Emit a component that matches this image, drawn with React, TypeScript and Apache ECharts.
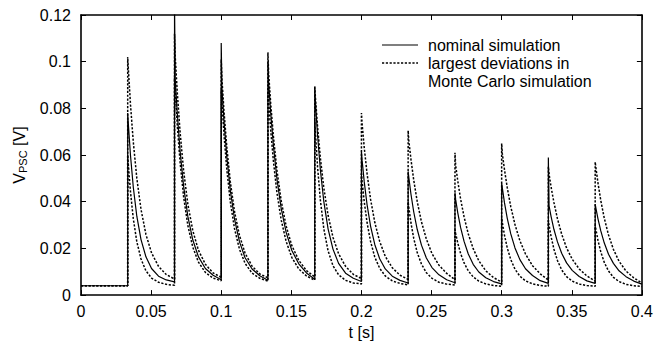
import { useEffect, useRef } from "react";
import * as echarts from "echarts";

// ---- axes ----
const xMin = 0;
const xMax = 0.4;
const xInterval = 0.05;
const yMin = 0;
const yMax = 0.12;
const yInterval = 0.02;

// ---- pulse timing (s) ----
const pulseTimes = [0.0333, 0.0667, 0.1, 0.1333, 0.1667, 0.2, 0.2333, 0.2667, 0.3, 0.3333, 0.3667];
// sample instants after each pulse onset (s)
const decayOffsets = [0.0005, 0.002, 0.004, 0.0065, 0.0095, 0.013, 0.017, 0.022, 0.0275];
const initialLevel = 0.004;

// ---- nominal simulation ----
const nominalSpikes = [0.078, 0.125, 0.108, 0.1, 0.089, 0.0615, 0.053, 0.044, 0.048, 0.059, 0.039];
const nominalDecay = [
  [0.073, 0.0598, 0.0462, 0.0338, 0.0238, 0.0164, 0.0114, 0.0081, 0.0065],
  [0.0924, 0.0776, 0.0616, 0.0466, 0.0337, 0.0237, 0.0165, 0.0114, 0.0085],
  [0.0886, 0.0744, 0.0592, 0.0448, 0.0325, 0.0229, 0.016, 0.0112, 0.0083],
  [0.0911, 0.078, 0.0635, 0.0495, 0.037, 0.0269, 0.0192, 0.0134, 0.0095],
  [0.0826, 0.0686, 0.0537, 0.0399, 0.0284, 0.0197, 0.0136, 0.0094, 0.0072],
  [0.0576, 0.0485, 0.0388, 0.0296, 0.0217, 0.0156, 0.0112, 0.0081, 0.0063],
  [0.0504, 0.0433, 0.0356, 0.0281, 0.0214, 0.0159, 0.0118, 0.0087, 0.0066],
  [0.0409, 0.0352, 0.029, 0.023, 0.0176, 0.0132, 0.0099, 0.0074, 0.0058],
  [0.0458, 0.0396, 0.0329, 0.0262, 0.0202, 0.0152, 0.0113, 0.0084, 0.0062],
  [0.0382, 0.0335, 0.0281, 0.0228, 0.0179, 0.0138, 0.0106, 0.008, 0.0061],
  [0.0373, 0.0327, 0.0275, 0.0223, 0.0175, 0.0136, 0.0104, 0.0079, 0.006],
];
const nominalEnds = [0.0057, 0.0066, 0.0064, 0.0068, 0.0058, 0.0052, 0.0053, 0.0048, 0.005, 0.005, 0.0047];

// ---- Monte Carlo run with the largest (upper) deviation ----
const upperSpikes = [0.102, 0.112, 0.101, 0.104, 0.0895, 0.078, 0.0705, 0.061, 0.065, 0.055, 0.057];
const upperDecay = [
  [0.0965, 0.0816, 0.0656, 0.0501, 0.0367, 0.026, 0.0181, 0.0123, 0.0088],
  [0.1022, 0.0865, 0.0696, 0.0532, 0.039, 0.0277, 0.0193, 0.0132, 0.0095],
  [0.0927, 0.0786, 0.0633, 0.0485, 0.0357, 0.0256, 0.018, 0.0124, 0.0091],
  [0.0952, 0.082, 0.0675, 0.0532, 0.0403, 0.0296, 0.0213, 0.0149, 0.0105],
  [0.0845, 0.0723, 0.0588, 0.0458, 0.0342, 0.0248, 0.0177, 0.0123, 0.0089],
  [0.0733, 0.0632, 0.0521, 0.0411, 0.0312, 0.023, 0.0166, 0.0117, 0.0085],
  [0.0661, 0.0582, 0.0492, 0.04, 0.0314, 0.024, 0.0178, 0.0128, 0.0093],
  [0.0556, 0.0489, 0.0412, 0.0335, 0.0262, 0.0199, 0.0147, 0.0104, 0.0075],
  [0.0605, 0.0538, 0.046, 0.0379, 0.0302, 0.0233, 0.0176, 0.0126, 0.0091],
  [0.0519, 0.0461, 0.0396, 0.0327, 0.0261, 0.0202, 0.0154, 0.0112, 0.0082],
  [0.0546, 0.048, 0.0405, 0.0329, 0.0258, 0.0196, 0.0145, 0.0103, 0.0074],
];
const upperEnds = [0.0069, 0.0076, 0.0074, 0.0078, 0.0071, 0.0067, 0.0066, 0.0056, 0.0064, 0.006, 0.0052];

// ---- Monte Carlo run with the largest (lower) deviation ----
const lowerSpikes = [0.06, 0.093, 0.088, 0.09, 0.075, 0.052, 0.04, 0.028, 0.033, 0.032, 0.03];
const lowerDecay = [
  [0.0555, 0.0442, 0.0327, 0.0229, 0.0155, 0.0104, 0.0073, 0.0055, 0.0046],
  [0.0873, 0.0724, 0.0567, 0.042, 0.0298, 0.0206, 0.0142, 0.0097, 0.0073],
  [0.0826, 0.0686, 0.0537, 0.0399, 0.0284, 0.0197, 0.0136, 0.0094, 0.0072],
  [0.0833, 0.0706, 0.0569, 0.0436, 0.0321, 0.023, 0.0162, 0.0112, 0.0082],
  [0.0694, 0.055, 0.0407, 0.0283, 0.019, 0.0126, 0.0087, 0.0063, 0.0052],
  [0.0487, 0.04, 0.0311, 0.023, 0.0163, 0.0115, 0.0082, 0.0061, 0.005],
  [0.0375, 0.031, 0.0243, 0.0182, 0.0133, 0.0096, 0.0072, 0.0055, 0.0047],
  [0.0264, 0.0223, 0.0179, 0.0138, 0.0104, 0.0078, 0.006, 0.0048, 0.0041],
  [0.031, 0.0257, 0.0202, 0.0152, 0.0111, 0.0081, 0.0061, 0.0048, 0.0041],
  [0.03, 0.0249, 0.0196, 0.0148, 0.0108, 0.0079, 0.006, 0.0047, 0.0041],
  [0.0282, 0.0234, 0.0185, 0.014, 0.0103, 0.0076, 0.0058, 0.0046, 0.004],
];
const lowerEnds = [0.0042, 0.0061, 0.006, 0.0064, 0.0048, 0.0044, 0.0043, 0.0038, 0.0038, 0.0038, 0.0037];

const legendNominal = "nominal simulation";
const legendDeviation = ["largest deviations in", "Monte Carlo simulation"];
const xName = "t [s]";

const FONT = "'Liberation Sans', Arial, Helvetica, sans-serif";

function buildPoints(spikes: number[], decay: number[][], ends: number[]) {
  const pts: [number, number][] = [[xMin, initialLevel]];
  pulseTimes.forEach((t, k) => {
    pts.push([t, k === 0 ? initialLevel : ends[k - 1]]);
    pts.push([t, spikes[k]]);
    decayOffsets.forEach((o, j) => pts.push([+(t + o).toFixed(5), decay[k][j]]));
  });
  pts.push([xMax, ends[ends.length - 1]]);
  return pts;
}

const fmt = (v: number) => String(parseFloat(v.toFixed(3)));

export default function App() {
  const ref = useRef<HTMLDivElement>(null);
  useEffect(() => {
    if (!ref.current) return;
    const chart = echarts.init(ref.current, undefined, { renderer: "svg" });
    const axisLine = { show: true, onZero: false, lineStyle: { color: "#000", width: 1.6 } };
    const axisTick = { show: true, inside: true, length: 5, lineStyle: { color: "#000", width: 1 } };
    const label = { color: "#000", fontSize: 16, fontFamily: FONT };
    const dotted = { color: "#000", width: 1.5, type: [2.2, 1.6] as number[] };
    chart.setOption({
      animation: false,
      backgroundColor: "#fff",
      grid: { left: 81, right: 12, top: 15, bottom: 49, containLabel: false },
      xAxis: [
        {
          type: "value",
          min: xMin,
          max: xMax,
          interval: xInterval,
          axisLine,
          axisTick,
          splitLine: { show: false },
          axisLabel: { ...label, margin: 8, formatter: fmt },
          name: xName,
          nameLocation: "middle",
          nameGap: 23,
          nameTextStyle: { ...label },
        },
        {
          type: "value",
          position: "top",
          min: xMin,
          max: xMax,
          interval: xInterval,
          axisLine,
          axisTick,
          splitLine: { show: false },
          axisLabel: { show: false },
        },
      ],
      yAxis: [
        {
          type: "value",
          min: yMin,
          max: yMax,
          interval: yInterval,
          axisLine,
          axisTick,
          splitLine: { show: false },
          axisLabel: { ...label, margin: 10, formatter: fmt },
          name: "{v|V}{s|PSC}{v| [V]}",
          nameLocation: "middle",
          nameGap: 52,
          nameRotate: 90,
          nameTextStyle: {
            ...label,
            rich: {
              v: { fontSize: 16, fontFamily: FONT, color: "#000", lineHeight: 18 },
              s: { fontSize: 11, fontFamily: FONT, color: "#000", verticalAlign: "bottom", lineHeight: 10 },
            },
          },
        },
        {
          type: "value",
          position: "right",
          min: yMin,
          max: yMax,
          interval: yInterval,
          axisLine,
          axisTick,
          splitLine: { show: false },
          axisLabel: { show: false },
        },
      ],
      series: [
        {
          name: legendDeviation.join(" "),
          type: "line",
          data: buildPoints(upperSpikes, upperDecay, upperEnds),
          symbol: "none",
          lineStyle: dotted,
          clip: true,
          z: 2,
        },
        {
          name: legendDeviation.join(" ") + " (low)",
          type: "line",
          data: buildPoints(lowerSpikes, lowerDecay, lowerEnds),
          symbol: "none",
          lineStyle: dotted,
          clip: true,
          z: 2,
        },
        {
          name: legendNominal,
          type: "line",
          data: buildPoints(nominalSpikes, nominalDecay, nominalEnds),
          symbol: "none",
          lineStyle: { color: "#000", width: 1.2 },
          clip: true,
          z: 3,
        },
      ],
      graphic: [
        {
          type: "line",
          shape: { x1: 382, y1: 45, x2: 418, y2: 45 },
          style: { stroke: "#000", lineWidth: 1.2 },
        },
        {
          type: "text",
          x: 428,
          y: 45,
          style: { text: legendNominal, font: `16px ${FONT}`, fill: "#000", verticalAlign: "middle" },
        },
        {
          type: "line",
          shape: { x1: 382, y1: 63, x2: 418, y2: 63 },
          style: { stroke: "#000", lineWidth: 1.5, lineDash: [2.2, 1.6] },
        },
        {
          type: "text",
          x: 428,
          y: 63,
          style: { text: legendDeviation[0], font: `16px ${FONT}`, fill: "#000", verticalAlign: "middle" },
        },
        {
          type: "text",
          x: 428,
          y: 81,
          style: { text: legendDeviation[1], font: `16px ${FONT}`, fill: "#000", verticalAlign: "middle" },
        },
      ],
    });
    return () => chart.dispose();
  }, []);
  return (
    <div
      ref={ref}
      style={{ position: "fixed", left: 0, top: 0, width: 656, height: 345, background: "#fff" }}
    />
  );
}
